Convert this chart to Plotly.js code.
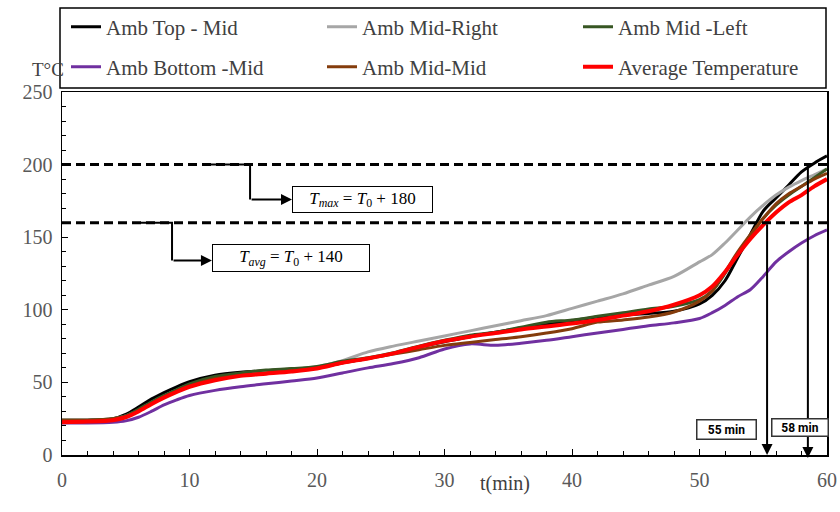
<!DOCTYPE html>
<html>
<head>
<meta charset="utf-8">
<script src="https://cdn.plot.ly/plotly-3.0.1.min.js"></script>
<style>html,body{margin:0;padding:0;background:#fff;}#chart{width:840px;height:512px;}</style>
</head>
<body>
<div id="chart"></div>
<script>
// ---- data ----
const timeMin = [0,2,4,5,6,7,8,9,10,12,14,16,18,20,22,24,26,28,30,32,34,36,38,40,42,44,46,48,50,51,52,53,54,55,56,57,58,59,60];
const ambTopMid = [24,24,25,28,33,38.5,43,47,50.5,55,57,58,59,60,63.5,66.5,70,74.5,78,81.5,84.5,87.5,90,92.5,95,96.5,97.5,99,104,110,120,136,152,168,177,186,195,201,206];
const ambMidRight = [24,24,25,27,31,36,40.5,44.5,48,53,56,58,59,61,65,71,75,78.5,82,85.5,89,92.5,96,101,106,111,117,123,133,138,146,155,164,172,179,184.5,189,193,197];
const ambMidLeft = [24,24,25,27,31.5,36.5,41,45,49,54,56.5,58.5,59.5,61,64.5,67,70.5,75,79,82.5,84.5,88,91.5,93,95.5,98,100.5,102.5,107,113,125,139,151,163,172,179,185,191,197];
const ambBottomMid = [22,22,22.5,23.5,26,30,34.5,38,41,44.5,47,49,51,53,56.5,60,63,67,73,76.5,75.5,77,79,81.5,84,86.5,89,91,94,98,103,109,114,123,133,140,146,151,155];
const ambMidMid = [24,24,25,26.5,30.5,35.5,40,44,47.5,52.5,55,56.5,58,60,63.5,66.5,69.5,72.5,75.5,77.5,79.5,81.5,84,87,91.5,93,95,98.5,106,113,126,140,152,163,173,180,185,190,194];
const avgTemp = [22.5,23,24,26,30,35,39.5,43.5,47,51.5,54.5,56,57.5,59.6,63.5,66.5,70,74.5,78.5,81.5,84,86.5,88.5,90.5,93,96,99,103.5,110,116,126,138,149,158.5,167,174,179,185,190];

const seriesNames = ["Amb Top - Mid","Amb Mid-Right","Amb Mid -Left","Amb Bottom -Mid","Amb Mid-Mid","Average Temperature"];
const limitValues = [200, 160];          // T_max and T_avg limits
const limitLabels = ["<i>T</i><sub><i>max</i></sub> = <i>T</i><sub>0</sub> + 180", "<i>T</i><sub><i>avg</i></sub> = <i>T</i><sub>0</sub> + 140"];
const crossTimes = [55.3, 58.5];        // times where limits are reached
const crossLabels = ["55 min", "58 min"];
const xTicks = [0,10,20,30,40,50,60];
const yTicks = [0,50,100,150,200,250];

// ---- styles ----
const colors = ["#000000","#A6A6A6","#375623","#7030A0","#843C0C","#FF0000"];
const widths = [3,3,3,3,3,4];
const seriesData = [ambTopMid, ambMidRight, ambMidLeft, ambBottomMid, ambMidMid, avgTemp];
const serif = "Liberation Serif";
const legendIds = ["legend","legend2","legend3","legend4","legend5","legend6"];

const traces = seriesData.map((ys, i) => ({
  x: timeMin, y: ys, type: "scatter", mode: "lines", name: seriesNames[i],
  line: {color: colors[i], width: widths[i], shape: "spline", smoothing: 0.8},
  legend: legendIds[i],
  hoverinfo: "skip"
}));

// plot-area pixel helpers for placing decorations
const L = 62, R = 13, T = 92, B = 57, W = 840, H = 512;
const pw = W - L - R, ph = H - T - B;
const px2paperX = p => (p - L) / pw;
const px2paperY = p => (H - B - p) / ph;

const shapes = [
  // legend frame
  {type: "rect", xref: "paper", yref: "paper", x0: px2paperX(60), x1: px2paperX(826), y0: px2paperY(88), y1: px2paperY(8), line: {color: "#000", width: 1.5}},
  // limit lines
  ...limitValues.map(v => ({type: "line", xref: "paper", yref: "y", x0: 0, x1: 1, y0: v, y1: v, line: {color: "#000", width: 3, dash: "9px,5px"}})),
  // connectors from limit lines to labels
  {type: "path", xref: "x", yref: "y", path: `M 11.06,${limitValues[0]} L 14.75,${limitValues[0]} L 14.75,176`, line: {color: "#000", width: 2}},
  {type: "path", xref: "x", yref: "y", path: `M 6.12,${limitValues[1]} L 8.63,${limitValues[1]} L 8.63,134`, line: {color: "#000", width: 2}}
];

const annotations = [
  {xref: "paper", yref: "paper", x: px2paperX(30), y: px2paperY(57), text: "T°C", showarrow: false, font: {family: serif, size: 19, color: "#404040"}},
  {xref: "paper", yref: "paper", x: px2paperX(505), y: px2paperY(497), text: "t(min)", showarrow: false, font: {family: serif, size: 20, color: "#404040"}},
  // arrows into label boxes
  {xref: "x", yref: "y", x: 18.04, y: 176, ax: 14.75, ay: 176, axref: "x", ayref: "y", text: "", showarrow: true, arrowhead: 2, arrowsize: 1.1, arrowwidth: 2, arrowcolor: "#000", standoff: 0},
  {xref: "x", yref: "y", x: 11.76, y: 134, ax: 8.63, ay: 134, axref: "x", ayref: "y", text: "", showarrow: true, arrowhead: 2, arrowsize: 1.1, arrowwidth: 2, arrowcolor: "#000", standoff: 0},
  // label boxes
  {xref: "x", yref: "y", x: 23.57, y: 176.3, text: limitLabels[0], showarrow: false, width: 139, height: 25, borderwidth: 1, borderpad: 0, bordercolor: "#000", bgcolor: "#fff", font: {family: serif, size: 17, color: "#000"}},
  {xref: "x", yref: "y", x: 17.96, y: 135.4, text: limitLabels[1], showarrow: false, width: 156, height: 26, borderwidth: 1, borderpad: 0, bordercolor: "#000", bgcolor: "#fff", font: {family: serif, size: 17, color: "#000"}},
  // vertical arrows at crossing times
  {xref: "x", yref: "y", x: crossTimes[0], y: 0, ax: crossTimes[0], ay: limitValues[1], axref: "x", ayref: "y", text: "", showarrow: true, arrowhead: 2, arrowsize: 1.1, arrowwidth: 2, arrowcolor: "#000", standoff: 0},
  {xref: "x", yref: "y", x: crossTimes[1], y: -2, ax: crossTimes[1], ay: limitValues[0], axref: "x", ayref: "y", text: "", showarrow: true, arrowhead: 2, arrowsize: 1.1, arrowwidth: 2, arrowcolor: "#000", standoff: 0},
  {xref: "x", yref: "y", x: 52.08, y: 17.5, text: "<b>" + crossLabels[0] + "</b>", showarrow: false, width: 58, height: 18, borderwidth: 1.5, borderpad: 0, bordercolor: "#333", bgcolor: "#fff", font: {family: "Roboto", size: 12, color: "#000"}},
  {xref: "x", yref: "y", x: 57.88, y: 18.9, text: "<b>" + crossLabels[1] + "</b>", showarrow: false, width: 55, height: 16, borderwidth: 1.5, borderpad: 0, bordercolor: "#333", bgcolor: "#fff", font: {family: "Roboto", size: 12, color: "#000"}}
];

const axisCommon = {
  showgrid: false, zeroline: false, showline: true, linecolor: "#000", linewidth: 1.5, mirror: true,
  ticks: "inside", ticklen: 6, tickcolor: "#000", tickwidth: 1,
  tickfont: {family: serif, size: 20, color: "#595959"}
};

// one legend per entry so each can sit at its own place in the 3x2 legend grid
const legendCols = [66, 322, 578];
const legendRows = [27, 67];
const legendCommon = {
  orientation: "v", xanchor: "left", yanchor: "middle",
  bgcolor: "rgba(0,0,0,0)", borderwidth: 0,
  font: {family: serif, size: 21, color: "#404040"}
};

const layout = {
  width: W, height: H,
  font: {family: serif, color: "#404040"},
  margin: {l: L, r: R, t: T, b: B, autoexpand: false},
  paper_bgcolor: "#fff", plot_bgcolor: "#fff",
  xaxis: Object.assign({}, axisCommon, {range: [0, 60], tickvals: xTicks, ticklabelstandoff: 6,
    minor: {dtick: 2, ticks: "inside", ticklen: 4, tickcolor: "#000"}}),
  yaxis: Object.assign({}, axisCommon, {range: [0, 250], tickvals: yTicks, ticklabelstandoff: 4,
    minor: {dtick: 10, ticks: "inside", ticklen: 4, tickcolor: "#000"}}),
  showlegend: true,
  shapes: shapes,
  annotations: annotations
};
legendIds.forEach((id, i) => {
  layout[id] = Object.assign({}, legendCommon, {
    x: px2paperX(legendCols[i % 3]), y: px2paperY(legendRows[Math.floor(i / 3)])
  });
});

Plotly.newPlot("chart", traces, layout, {displayModeBar: false, staticPlot: true});
</script>
</body>
</html>
